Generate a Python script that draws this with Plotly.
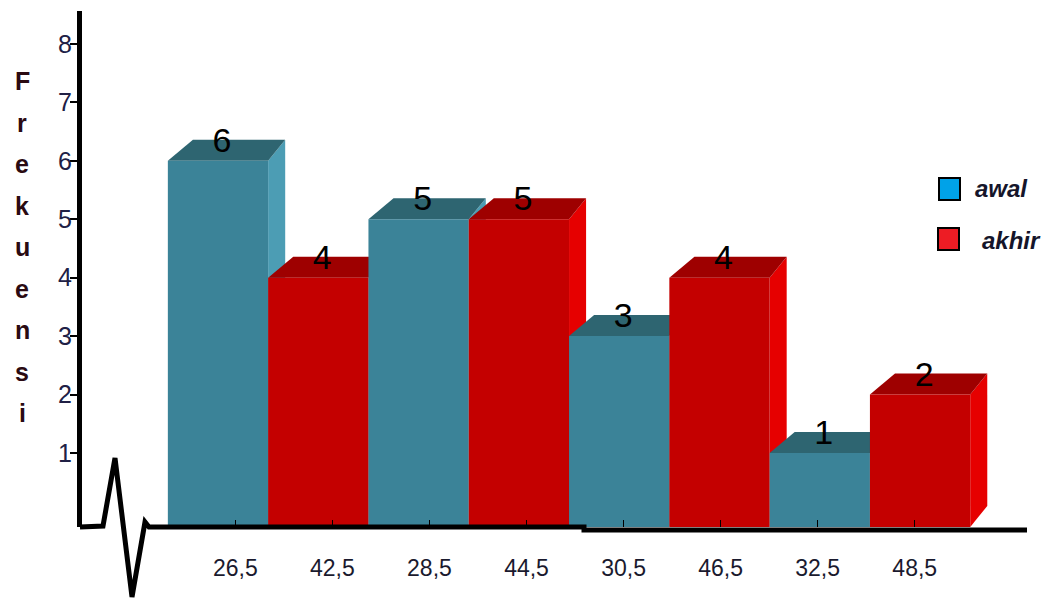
import plotly.graph_objects as go

# ---------------- data ----------------
awal_labels = ["26,5", "28,5", "30,5", "32,5"]
awal_values = [6, 5, 3, 1]
akhir_labels = ["42,5", "44,5", "46,5", "48,5"]
akhir_values = [4, 5, 4, 2]
y_ticks = [1, 2, 3, 4, 5, 6, 7, 8]
axis_title = "Frekuensi"

# interleave the two series: awal, akhir, awal, akhir ...
categories, values, series = [], [], []
for a_l, a_v, k_l, k_v in zip(awal_labels, awal_values, akhir_labels, akhir_values):
    categories += [a_l, k_l]
    values += [a_v, k_v]
    series += ["awal", "akhir"]

# ---------------- styling ----------------
W, H = 1047, 599
L, R, T, B = 82, 1027, 11, 527          # plot area in pixels
YMIN, YMAX = -0.267, 8.564
XMIN, XMAX = -1.356, 8.066
DX_L, DX_R, DY = 0.25, 0.17, 0.36       # 3-D depth offsets (data units)

COL = {
    "awal": {"front": "#3B8398", "side": "#4C9DB4", "top": "#2E6571"},
    "akhir": {"front": "#C40000", "side": "#E60000", "top": "#9E0000"},
}
LEGEND_COL = {"awal": "#00A2E8", "akhir": "#ED1C24"}
SANS = "Liberation Sans, Arial, sans-serif"


def px_x(p):
    return (p - L) / (R - L)


def px_y(p):
    return (B - p) / (B - T)


fig = go.Figure()

# ---------------- 3-D bars (side, top, front per bar, left to right) ----------------
for i, (v, s) in enumerate(zip(values, series)):
    c = COL[s]
    l, r = i - 0.5, i + 0.5
    side_x = [r, r + DX_R, r + DX_R, r, r]
    side_y = [YMIN, YMIN + DY, v + DY, v, YMIN]
    top_x = [l, r, r + DX_R, l + DX_L, l]
    top_y = [v, v, v + DY, v + DY, v]
    front_x = [l, r, r, l, l]
    front_y = [YMIN, YMIN, v, v, YMIN]
    for xs, ys, col in ((side_x, side_y, c["side"]), (top_x, top_y, c["top"]),
                        (front_x, front_y, c["front"])):
        fig.add_trace(go.Scatter(
            x=xs, y=ys, mode="lines", fill="toself", fillcolor=col,
            line=dict(width=0, color=col), hoverinfo="skip", showlegend=False,
        ))

# value labels on top of each bar
fig.add_trace(go.Scatter(
    x=[i + 0.04 for i in range(len(values))],
    y=[v + 0.3 for v in values],
    mode="text", text=[str(v) for v in values],
    textposition="middle center",
    textfont=dict(family=SANS, size=34, color="#000000"),
    hoverinfo="skip", showlegend=False,
))

# invisible trace on label axis
fig.add_trace(go.Scatter(x=list(range(len(categories))), y=values, xaxis="x2",
                         mode="markers", marker=dict(opacity=0), hoverinfo="skip",
                         showlegend=False))

# ---------------- axis line with break (zig-zag) ----------------
pts = [(80, 527), (103, 526), (115, 458), (132, 597), (145, 522), (149, 527),
       (584, 527), (584, 530), (1027, 530)]
path = "M " + " L ".join(f"{px_x(a):.5f},{px_y(b):.5f}" for a, b in pts)
shapes = [dict(type="path", xref="paper", yref="paper", path=path,
               line=dict(color="black", width=5), layer="above")]

# ---------------- manual legend ----------------
annotations = []
for (name, by, tx, ty) in (("awal", 178, 973, 188), ("akhir", 228, 980, 240)):
    bx = 939 if name == "awal" else 938
    shapes.append(dict(type="rect", xref="paper", yref="paper",
                       x0=px_x(bx), x1=px_x(bx + 21), y0=px_y(by + 22), y1=px_y(by),
                       fillcolor=LEGEND_COL[name], line=dict(color="black", width=2)))
    annotations.append(dict(xref="paper", yref="paper", x=px_x(tx), y=px_y(ty),
                            xanchor="left", yanchor="middle", showarrow=False,
                            text=f"<b><i>{name}</i></b>",
                            font=dict(family=SANS, size=24, color="#15152a")))

# vertical stacked axis title
for k, ch in enumerate(axis_title):
    annotations.append(dict(xref="paper", yref="paper", x=px_x(22), y=px_y(81 + 41.5 * k),
                            xanchor="center", yanchor="middle", showarrow=False,
                            text=f"<b>{ch}</b>",
                            font=dict(family=SANS, size=25, color="#2a0a12")))

fig.update_layout(
    width=W, height=H,
    margin=dict(l=L, r=W - R, t=T, b=H - B),
    paper_bgcolor="white", plot_bgcolor="white",
    showlegend=False,
    shapes=shapes, annotations=annotations,
    xaxis=dict(range=[XMIN, XMAX], showgrid=False, zeroline=False, showline=False,
               showticklabels=False, ticks="", fixedrange=True),
    xaxis2=dict(range=[-1.58, 8.157], overlaying="x", anchor="y", side="bottom",
                tickmode="array", tickvals=list(range(len(categories))), ticktext=categories,
                showgrid=False, zeroline=False, showline=False,
                ticks="inside", ticklen=7, tickwidth=1, tickcolor="black",
                ticklabelstandoff=25,
                tickfont=dict(family=SANS, size=23, color="#1a1a2e")),
    yaxis=dict(range=[YMIN, YMAX], tickmode="array", tickvals=y_ticks,
               ticktext=[str(t) for t in y_ticks],
               showgrid=False, zeroline=False, showline=True, linecolor="black",
               linewidth=5, ticks="outside", ticklen=7, tickwidth=1.5, tickcolor="black",
               ticklabelstandoff=-7,
               tickfont=dict(family=SANS, size=25, color="#202045"), fixedrange=True),
)

fig.write_html("out.html")
